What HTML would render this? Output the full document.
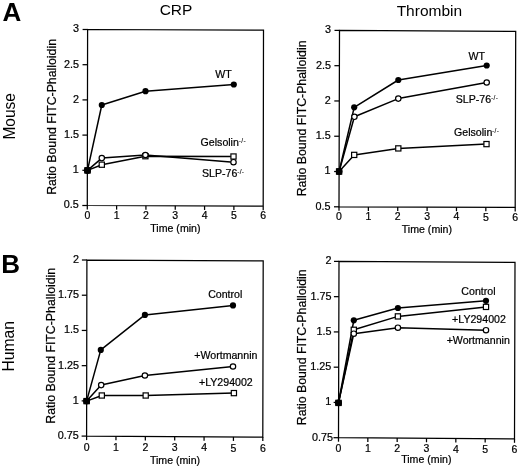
<!DOCTYPE html><html><head><meta charset="utf-8"><style>html,body{margin:0;padding:0;background:#fff;width:520px;height:470px;overflow:hidden}svg{display:block;filter:grayscale(1)}text{font-family:"Liberation Sans",sans-serif;fill:#000}</style></head><body>
<svg width="520" height="470" viewBox="0 0 520 470">
<defs><filter id="soft" x="0" y="0" width="100%" height="100%"><feGaussianBlur stdDeviation="0.3"/></filter></defs>
<rect width="520" height="470" fill="#fff"/>
<g filter="url(#soft)">
<text x="2.60" y="21.10" font-size="26" text-anchor="start" font-weight="bold">A</text>
<text x="1.30" y="272.80" font-size="26" text-anchor="start" font-weight="bold">B</text>
<text x="176.00" y="15.30" font-size="15.5" text-anchor="middle" font-weight="normal">CRP</text>
<text x="429.40" y="16.30" font-size="15.5" text-anchor="middle" font-weight="normal">Thrombin</text>
<text x="0" y="0" font-size="15.5" text-anchor="middle" font-weight="normal" transform="translate(15.40 116.30) rotate(-90) scale(1 1.07)">Mouse</text>
<text x="0" y="0" font-size="15.7" text-anchor="middle" font-weight="normal" transform="translate(14.10 346.30) rotate(-90) scale(1 1.07)">Human</text>
<path d="M87.6,29.5 L263.5,30.1 L263.2,206.2 L87.3,205.5 Z" fill="none" stroke="#000" stroke-width="1.25" stroke-linejoin="miter"/>
<line x1="87.30" y1="205.50" x2="87.30" y2="209.50" stroke="#000" stroke-width="1.25"/>
<text x="87.30" y="218.70" font-size="10.5" text-anchor="middle" font-weight="normal" stroke="#000" stroke-width="0.22">0</text>
<line x1="116.62" y1="205.62" x2="116.62" y2="209.62" stroke="#000" stroke-width="1.25"/>
<text x="116.62" y="218.82" font-size="10.5" text-anchor="middle" font-weight="normal" stroke="#000" stroke-width="0.22">1</text>
<line x1="145.93" y1="205.73" x2="145.93" y2="209.73" stroke="#000" stroke-width="1.25"/>
<text x="145.93" y="218.93" font-size="10.5" text-anchor="middle" font-weight="normal" stroke="#000" stroke-width="0.22">2</text>
<line x1="175.25" y1="205.85" x2="175.25" y2="209.85" stroke="#000" stroke-width="1.25"/>
<text x="175.25" y="219.05" font-size="10.5" text-anchor="middle" font-weight="normal" stroke="#000" stroke-width="0.22">3</text>
<line x1="204.57" y1="205.97" x2="204.57" y2="209.97" stroke="#000" stroke-width="1.25"/>
<text x="204.57" y="219.17" font-size="10.5" text-anchor="middle" font-weight="normal" stroke="#000" stroke-width="0.22">4</text>
<line x1="233.88" y1="206.08" x2="233.88" y2="210.08" stroke="#000" stroke-width="1.25"/>
<text x="233.88" y="219.28" font-size="10.5" text-anchor="middle" font-weight="normal" stroke="#000" stroke-width="0.22">5</text>
<line x1="263.20" y1="206.20" x2="263.20" y2="210.20" stroke="#000" stroke-width="1.25"/>
<text x="263.20" y="219.40" font-size="10.5" text-anchor="middle" font-weight="normal" stroke="#000" stroke-width="0.22">6</text>
<line x1="82.30" y1="205.50" x2="87.30" y2="205.50" stroke="#000" stroke-width="1.25"/>
<text x="78.80" y="208.40" font-size="10.8" text-anchor="end" font-weight="normal" stroke="#000" stroke-width="0.22">0.5</text>
<line x1="82.36" y1="170.30" x2="87.36" y2="170.30" stroke="#000" stroke-width="1.25"/>
<text x="78.86" y="173.20" font-size="10.8" text-anchor="end" font-weight="normal" stroke="#000" stroke-width="0.22">1</text>
<line x1="82.42" y1="135.10" x2="87.42" y2="135.10" stroke="#000" stroke-width="1.25"/>
<text x="78.92" y="138.00" font-size="10.8" text-anchor="end" font-weight="normal" stroke="#000" stroke-width="0.22">1.5</text>
<line x1="82.48" y1="99.90" x2="87.48" y2="99.90" stroke="#000" stroke-width="1.25"/>
<text x="78.98" y="102.80" font-size="10.8" text-anchor="end" font-weight="normal" stroke="#000" stroke-width="0.22">2</text>
<line x1="82.54" y1="64.70" x2="87.54" y2="64.70" stroke="#000" stroke-width="1.25"/>
<text x="79.04" y="67.60" font-size="10.8" text-anchor="end" font-weight="normal" stroke="#000" stroke-width="0.22">2.5</text>
<line x1="82.60" y1="29.50" x2="87.60" y2="29.50" stroke="#000" stroke-width="1.25"/>
<text x="79.10" y="32.40" font-size="10.8" text-anchor="end" font-weight="normal" stroke="#000" stroke-width="0.22">3</text>
<text x="175.40" y="231.60" font-size="10.6" text-anchor="middle" font-weight="normal" stroke="#000" stroke-width="0.22">Time (min)</text>
<text x="0" y="0" font-size="12.3" text-anchor="middle" font-weight="normal" stroke="#000" stroke-width="0.22" transform="translate(55.90 116.95) rotate(-90) scale(1 1.0)">Ratio Bound FITC-Phalloidin</text>
<path d="M87.50,170.40 L101.80,105.00 L145.50,91.20 L233.80,84.50" fill="none" stroke="#000" stroke-width="1.5" stroke-linejoin="round"/>
<path d="M87.50,170.40 L101.80,164.70 L145.40,156.20 L233.50,156.50" fill="none" stroke="#000" stroke-width="1.5" stroke-linejoin="round"/>
<path d="M87.50,170.40 L101.80,158.10 L145.40,155.00 L233.50,162.20" fill="none" stroke="#000" stroke-width="1.5" stroke-linejoin="round"/>
<rect x="84.90" y="167.80" width="5.2" height="5.2" fill="#fff" stroke="#000" stroke-width="1.2"/>
<rect x="99.20" y="162.10" width="5.2" height="5.2" fill="#fff" stroke="#000" stroke-width="1.2"/>
<rect x="142.80" y="153.60" width="5.2" height="5.2" fill="#fff" stroke="#000" stroke-width="1.2"/>
<rect x="230.90" y="153.90" width="5.2" height="5.2" fill="#fff" stroke="#000" stroke-width="1.2"/>
<circle cx="87.50" cy="170.40" r="2.7" fill="#fff" stroke="#000" stroke-width="1.2"/>
<circle cx="101.80" cy="158.10" r="2.7" fill="#fff" stroke="#000" stroke-width="1.2"/>
<circle cx="145.40" cy="155.00" r="2.7" fill="#fff" stroke="#000" stroke-width="1.2"/>
<circle cx="233.50" cy="162.20" r="2.7" fill="#fff" stroke="#000" stroke-width="1.2"/>
<circle cx="87.50" cy="170.40" r="3.1" fill="#000"/>
<circle cx="101.80" cy="105.00" r="3.1" fill="#000"/>
<circle cx="145.50" cy="91.20" r="3.1" fill="#000"/>
<circle cx="233.80" cy="84.50" r="3.1" fill="#000"/>
<rect x="84.55" y="167.45" width="5.9" height="5.9" fill="#000"/>
<text x="231.70" y="77.80" font-size="10.6" text-anchor="end" font-weight="normal" stroke="#000" stroke-width="0.22">WT</text>
<text x="200.60" y="145.80" font-size="10.6" text-anchor="start" font-weight="normal" stroke="#000" stroke-width="0.22">Gelsolin<tspan font-size="6.6" dy="-2.5" dx="-0.2" stroke-width="0.1" letter-spacing="0.35">-/-</tspan></text>
<text x="202.00" y="176.50" font-size="10.6" text-anchor="start" font-weight="normal" stroke="#000" stroke-width="0.22">SLP-76<tspan font-size="6.6" dy="-2.5" dx="-0.2" stroke-width="0.1" letter-spacing="0.35">-/-</tspan></text>
<path d="M339.5,30.4 L515.7,31.4 L515.2,207.4 L339.0,206.8 Z" fill="none" stroke="#000" stroke-width="1.25" stroke-linejoin="miter"/>
<line x1="339.00" y1="206.80" x2="339.00" y2="210.80" stroke="#000" stroke-width="1.25"/>
<text x="339.00" y="220.00" font-size="10.5" text-anchor="middle" font-weight="normal" stroke="#000" stroke-width="0.22">0</text>
<line x1="368.37" y1="206.90" x2="368.37" y2="210.90" stroke="#000" stroke-width="1.25"/>
<text x="368.37" y="220.10" font-size="10.5" text-anchor="middle" font-weight="normal" stroke="#000" stroke-width="0.22">1</text>
<line x1="397.73" y1="207.00" x2="397.73" y2="211.00" stroke="#000" stroke-width="1.25"/>
<text x="397.73" y="220.20" font-size="10.5" text-anchor="middle" font-weight="normal" stroke="#000" stroke-width="0.22">2</text>
<line x1="427.10" y1="207.10" x2="427.10" y2="211.10" stroke="#000" stroke-width="1.25"/>
<text x="427.10" y="220.30" font-size="10.5" text-anchor="middle" font-weight="normal" stroke="#000" stroke-width="0.22">3</text>
<line x1="456.47" y1="207.20" x2="456.47" y2="211.20" stroke="#000" stroke-width="1.25"/>
<text x="456.47" y="220.40" font-size="10.5" text-anchor="middle" font-weight="normal" stroke="#000" stroke-width="0.22">4</text>
<line x1="485.83" y1="207.30" x2="485.83" y2="211.30" stroke="#000" stroke-width="1.25"/>
<text x="485.83" y="220.50" font-size="10.5" text-anchor="middle" font-weight="normal" stroke="#000" stroke-width="0.22">5</text>
<line x1="515.20" y1="207.40" x2="515.20" y2="211.40" stroke="#000" stroke-width="1.25"/>
<text x="515.20" y="220.60" font-size="10.5" text-anchor="middle" font-weight="normal" stroke="#000" stroke-width="0.22">6</text>
<line x1="334.00" y1="206.80" x2="339.00" y2="206.80" stroke="#000" stroke-width="1.25"/>
<text x="330.50" y="209.70" font-size="10.8" text-anchor="end" font-weight="normal" stroke="#000" stroke-width="0.22">0.5</text>
<line x1="334.10" y1="171.52" x2="339.10" y2="171.52" stroke="#000" stroke-width="1.25"/>
<text x="330.60" y="174.42" font-size="10.8" text-anchor="end" font-weight="normal" stroke="#000" stroke-width="0.22">1</text>
<line x1="334.20" y1="136.24" x2="339.20" y2="136.24" stroke="#000" stroke-width="1.25"/>
<text x="330.70" y="139.14" font-size="10.8" text-anchor="end" font-weight="normal" stroke="#000" stroke-width="0.22">1.5</text>
<line x1="334.30" y1="100.96" x2="339.30" y2="100.96" stroke="#000" stroke-width="1.25"/>
<text x="330.80" y="103.86" font-size="10.8" text-anchor="end" font-weight="normal" stroke="#000" stroke-width="0.22">2</text>
<line x1="334.40" y1="65.68" x2="339.40" y2="65.68" stroke="#000" stroke-width="1.25"/>
<text x="330.90" y="68.58" font-size="10.8" text-anchor="end" font-weight="normal" stroke="#000" stroke-width="0.22">2.5</text>
<line x1="334.50" y1="30.40" x2="339.50" y2="30.40" stroke="#000" stroke-width="1.25"/>
<text x="331.00" y="33.30" font-size="10.8" text-anchor="end" font-weight="normal" stroke="#000" stroke-width="0.22">3</text>
<text x="426.90" y="232.60" font-size="10.6" text-anchor="middle" font-weight="normal" stroke="#000" stroke-width="0.22">Time (min)</text>
<text x="0" y="0" font-size="12.3" text-anchor="middle" font-weight="normal" stroke="#000" stroke-width="0.22" transform="translate(306.30 118.45) rotate(-90) scale(1 1.0)">Ratio Bound FITC-Phalloidin</text>
<path d="M339.10,171.50 L354.20,107.30 L398.30,80.00 L486.70,65.50" fill="none" stroke="#000" stroke-width="1.5" stroke-linejoin="round"/>
<path d="M339.10,171.50 L354.40,116.80 L398.30,98.60 L486.70,82.50" fill="none" stroke="#000" stroke-width="1.5" stroke-linejoin="round"/>
<path d="M339.10,171.50 L354.20,154.90 L398.30,148.40 L486.50,144.10" fill="none" stroke="#000" stroke-width="1.5" stroke-linejoin="round"/>
<rect x="336.50" y="168.90" width="5.2" height="5.2" fill="#fff" stroke="#000" stroke-width="1.2"/>
<rect x="351.60" y="152.30" width="5.2" height="5.2" fill="#fff" stroke="#000" stroke-width="1.2"/>
<rect x="395.70" y="145.80" width="5.2" height="5.2" fill="#fff" stroke="#000" stroke-width="1.2"/>
<rect x="483.90" y="141.50" width="5.2" height="5.2" fill="#fff" stroke="#000" stroke-width="1.2"/>
<circle cx="339.10" cy="171.50" r="2.7" fill="#fff" stroke="#000" stroke-width="1.2"/>
<circle cx="354.40" cy="116.80" r="2.7" fill="#fff" stroke="#000" stroke-width="1.2"/>
<circle cx="398.30" cy="98.60" r="2.7" fill="#fff" stroke="#000" stroke-width="1.2"/>
<circle cx="486.70" cy="82.50" r="2.7" fill="#fff" stroke="#000" stroke-width="1.2"/>
<circle cx="339.10" cy="171.50" r="3.1" fill="#000"/>
<circle cx="354.20" cy="107.30" r="3.1" fill="#000"/>
<circle cx="398.30" cy="80.00" r="3.1" fill="#000"/>
<circle cx="486.70" cy="65.50" r="3.1" fill="#000"/>
<rect x="336.15" y="168.55" width="5.9" height="5.9" fill="#000"/>
<text x="484.90" y="59.80" font-size="10.6" text-anchor="end" font-weight="normal" stroke="#000" stroke-width="0.22">WT</text>
<text x="455.80" y="102.50" font-size="10.6" text-anchor="start" font-weight="normal" stroke="#000" stroke-width="0.22">SLP-76<tspan font-size="6.6" dy="-2.5" dx="-0.2" stroke-width="0.1" letter-spacing="0.35">-/-</tspan></text>
<text x="454.00" y="135.70" font-size="10.6" text-anchor="start" font-weight="normal" stroke="#000" stroke-width="0.22">Gelsolin<tspan font-size="6.6" dy="-2.5" dx="-0.2" stroke-width="0.1" letter-spacing="0.35">-/-</tspan></text>
<path d="M86.9,260.0 L263.2,260.8 L262.8,437.1 L86.6,436.1 Z" fill="none" stroke="#000" stroke-width="1.25" stroke-linejoin="miter"/>
<line x1="86.60" y1="436.10" x2="86.60" y2="440.10" stroke="#000" stroke-width="1.25"/>
<text x="86.60" y="450.70" font-size="10.5" text-anchor="middle" font-weight="normal" stroke="#000" stroke-width="0.22">0</text>
<line x1="115.97" y1="436.27" x2="115.97" y2="440.27" stroke="#000" stroke-width="1.25"/>
<text x="115.97" y="450.87" font-size="10.5" text-anchor="middle" font-weight="normal" stroke="#000" stroke-width="0.22">1</text>
<line x1="145.33" y1="436.43" x2="145.33" y2="440.43" stroke="#000" stroke-width="1.25"/>
<text x="145.33" y="451.03" font-size="10.5" text-anchor="middle" font-weight="normal" stroke="#000" stroke-width="0.22">2</text>
<line x1="174.70" y1="436.60" x2="174.70" y2="440.60" stroke="#000" stroke-width="1.25"/>
<text x="174.70" y="451.20" font-size="10.5" text-anchor="middle" font-weight="normal" stroke="#000" stroke-width="0.22">3</text>
<line x1="204.07" y1="436.77" x2="204.07" y2="440.77" stroke="#000" stroke-width="1.25"/>
<text x="204.07" y="451.37" font-size="10.5" text-anchor="middle" font-weight="normal" stroke="#000" stroke-width="0.22">4</text>
<line x1="233.43" y1="436.93" x2="233.43" y2="440.93" stroke="#000" stroke-width="1.25"/>
<text x="233.43" y="451.53" font-size="10.5" text-anchor="middle" font-weight="normal" stroke="#000" stroke-width="0.22">5</text>
<line x1="262.80" y1="437.10" x2="262.80" y2="441.10" stroke="#000" stroke-width="1.25"/>
<text x="262.80" y="451.70" font-size="10.5" text-anchor="middle" font-weight="normal" stroke="#000" stroke-width="0.22">6</text>
<line x1="81.60" y1="436.10" x2="86.60" y2="436.10" stroke="#000" stroke-width="1.25"/>
<text x="78.80" y="439.00" font-size="10.8" text-anchor="end" font-weight="normal" stroke="#000" stroke-width="0.22">0.75</text>
<line x1="81.66" y1="400.88" x2="86.66" y2="400.88" stroke="#000" stroke-width="1.25"/>
<text x="78.86" y="403.78" font-size="10.8" text-anchor="end" font-weight="normal" stroke="#000" stroke-width="0.22">1</text>
<line x1="81.72" y1="365.66" x2="86.72" y2="365.66" stroke="#000" stroke-width="1.25"/>
<text x="78.92" y="368.56" font-size="10.8" text-anchor="end" font-weight="normal" stroke="#000" stroke-width="0.22">1.25</text>
<line x1="81.78" y1="330.44" x2="86.78" y2="330.44" stroke="#000" stroke-width="1.25"/>
<text x="78.98" y="333.34" font-size="10.8" text-anchor="end" font-weight="normal" stroke="#000" stroke-width="0.22">1.5</text>
<line x1="81.84" y1="295.22" x2="86.84" y2="295.22" stroke="#000" stroke-width="1.25"/>
<text x="79.04" y="298.12" font-size="10.8" text-anchor="end" font-weight="normal" stroke="#000" stroke-width="0.22">1.75</text>
<line x1="81.90" y1="260.00" x2="86.90" y2="260.00" stroke="#000" stroke-width="1.25"/>
<text x="79.10" y="262.90" font-size="10.8" text-anchor="end" font-weight="normal" stroke="#000" stroke-width="0.22">2</text>
<text x="175.00" y="464.10" font-size="10.6" text-anchor="middle" font-weight="normal" stroke="#000" stroke-width="0.22">Time (min)</text>
<text x="0" y="0" font-size="12.3" text-anchor="middle" font-weight="normal" stroke="#000" stroke-width="0.22" transform="translate(54.70 345.75) rotate(-90) scale(1 1.0)">Ratio Bound FITC-Phalloidin</text>
<path d="M86.60,401.10 L100.80,349.90 L144.90,314.90 L233.00,305.40" fill="none" stroke="#000" stroke-width="1.5" stroke-linejoin="round"/>
<path d="M86.60,401.10 L101.20,385.10 L144.90,375.50 L233.00,366.50" fill="none" stroke="#000" stroke-width="1.5" stroke-linejoin="round"/>
<path d="M86.60,401.10 L101.80,395.50 L145.70,395.50 L233.90,393.10" fill="none" stroke="#000" stroke-width="1.5" stroke-linejoin="round"/>
<rect x="84.00" y="398.50" width="5.2" height="5.2" fill="#fff" stroke="#000" stroke-width="1.2"/>
<rect x="99.20" y="392.90" width="5.2" height="5.2" fill="#fff" stroke="#000" stroke-width="1.2"/>
<rect x="143.10" y="392.90" width="5.2" height="5.2" fill="#fff" stroke="#000" stroke-width="1.2"/>
<rect x="231.30" y="390.50" width="5.2" height="5.2" fill="#fff" stroke="#000" stroke-width="1.2"/>
<circle cx="86.60" cy="401.10" r="2.7" fill="#fff" stroke="#000" stroke-width="1.2"/>
<circle cx="101.20" cy="385.10" r="2.7" fill="#fff" stroke="#000" stroke-width="1.2"/>
<circle cx="144.90" cy="375.50" r="2.7" fill="#fff" stroke="#000" stroke-width="1.2"/>
<circle cx="233.00" cy="366.50" r="2.7" fill="#fff" stroke="#000" stroke-width="1.2"/>
<circle cx="86.60" cy="401.10" r="3.1" fill="#000"/>
<circle cx="100.80" cy="349.90" r="3.1" fill="#000"/>
<circle cx="144.90" cy="314.90" r="3.1" fill="#000"/>
<circle cx="233.00" cy="305.40" r="3.1" fill="#000"/>
<rect x="83.65" y="398.15" width="5.9" height="5.9" fill="#000"/>
<text x="242.30" y="298.30" font-size="10.6" text-anchor="end" font-weight="normal" stroke="#000" stroke-width="0.22">Control</text>
<text x="194.30" y="358.60" font-size="10.6" text-anchor="start" font-weight="normal" stroke="#000" stroke-width="0.22">+Wortmannin</text>
<text x="199.00" y="386.30" font-size="10.6" text-anchor="start" font-weight="normal" stroke="#000" stroke-width="0.22">+LY294002</text>
<path d="M339.0,261.4 L515.0,262.4 L514.5,438.8 L338.5,437.7 Z" fill="none" stroke="#000" stroke-width="1.25" stroke-linejoin="miter"/>
<line x1="338.50" y1="437.70" x2="338.50" y2="441.70" stroke="#000" stroke-width="1.25"/>
<text x="338.50" y="451.90" font-size="10.5" text-anchor="middle" font-weight="normal" stroke="#000" stroke-width="0.22">0</text>
<line x1="367.83" y1="437.88" x2="367.83" y2="441.88" stroke="#000" stroke-width="1.25"/>
<text x="367.83" y="452.08" font-size="10.5" text-anchor="middle" font-weight="normal" stroke="#000" stroke-width="0.22">1</text>
<line x1="397.17" y1="438.07" x2="397.17" y2="442.07" stroke="#000" stroke-width="1.25"/>
<text x="397.17" y="452.27" font-size="10.5" text-anchor="middle" font-weight="normal" stroke="#000" stroke-width="0.22">2</text>
<line x1="426.50" y1="438.25" x2="426.50" y2="442.25" stroke="#000" stroke-width="1.25"/>
<text x="426.50" y="452.45" font-size="10.5" text-anchor="middle" font-weight="normal" stroke="#000" stroke-width="0.22">3</text>
<line x1="455.83" y1="438.43" x2="455.83" y2="442.43" stroke="#000" stroke-width="1.25"/>
<text x="455.83" y="452.63" font-size="10.5" text-anchor="middle" font-weight="normal" stroke="#000" stroke-width="0.22">4</text>
<line x1="485.17" y1="438.62" x2="485.17" y2="442.62" stroke="#000" stroke-width="1.25"/>
<text x="485.17" y="452.82" font-size="10.5" text-anchor="middle" font-weight="normal" stroke="#000" stroke-width="0.22">5</text>
<line x1="514.50" y1="438.80" x2="514.50" y2="442.80" stroke="#000" stroke-width="1.25"/>
<text x="514.50" y="453.00" font-size="10.5" text-anchor="middle" font-weight="normal" stroke="#000" stroke-width="0.22">6</text>
<line x1="333.50" y1="437.70" x2="338.50" y2="437.70" stroke="#000" stroke-width="1.25"/>
<text x="332.90" y="440.60" font-size="10.8" text-anchor="end" font-weight="normal" stroke="#000" stroke-width="0.22">0.75</text>
<line x1="333.60" y1="402.44" x2="338.60" y2="402.44" stroke="#000" stroke-width="1.25"/>
<text x="331.20" y="405.34" font-size="10.8" text-anchor="end" font-weight="normal" stroke="#000" stroke-width="0.22">1</text>
<line x1="333.70" y1="367.18" x2="338.70" y2="367.18" stroke="#000" stroke-width="1.25"/>
<text x="331.30" y="370.08" font-size="10.8" text-anchor="end" font-weight="normal" stroke="#000" stroke-width="0.22">1.25</text>
<line x1="333.80" y1="331.92" x2="338.80" y2="331.92" stroke="#000" stroke-width="1.25"/>
<text x="331.40" y="334.82" font-size="10.8" text-anchor="end" font-weight="normal" stroke="#000" stroke-width="0.22">1.5</text>
<line x1="333.90" y1="296.66" x2="338.90" y2="296.66" stroke="#000" stroke-width="1.25"/>
<text x="331.50" y="299.56" font-size="10.8" text-anchor="end" font-weight="normal" stroke="#000" stroke-width="0.22">1.75</text>
<line x1="334.00" y1="261.40" x2="339.00" y2="261.40" stroke="#000" stroke-width="1.25"/>
<text x="331.60" y="264.30" font-size="10.8" text-anchor="end" font-weight="normal" stroke="#000" stroke-width="0.22">2</text>
<text x="426.30" y="463.20" font-size="10.6" text-anchor="middle" font-weight="normal" stroke="#000" stroke-width="0.22">Time (min)</text>
<text x="0" y="0" font-size="12.3" text-anchor="middle" font-weight="normal" stroke="#000" stroke-width="0.22" transform="translate(306.30 347.25) rotate(-90) scale(1 1.0)">Ratio Bound FITC-Phalloidin</text>
<path d="M338.50,402.90 L353.80,320.30 L397.90,308.00 L486.00,300.80" fill="none" stroke="#000" stroke-width="1.5" stroke-linejoin="round"/>
<path d="M338.50,402.90 L353.80,333.70 L397.90,327.70 L486.00,330.20" fill="none" stroke="#000" stroke-width="1.5" stroke-linejoin="round"/>
<path d="M338.50,402.90 L353.80,329.80 L397.90,316.40 L486.00,306.90" fill="none" stroke="#000" stroke-width="1.5" stroke-linejoin="round"/>
<rect x="335.90" y="400.30" width="5.2" height="5.2" fill="#fff" stroke="#000" stroke-width="1.2"/>
<rect x="351.20" y="327.20" width="5.2" height="5.2" fill="#fff" stroke="#000" stroke-width="1.2"/>
<rect x="395.30" y="313.80" width="5.2" height="5.2" fill="#fff" stroke="#000" stroke-width="1.2"/>
<rect x="483.40" y="304.30" width="5.2" height="5.2" fill="#fff" stroke="#000" stroke-width="1.2"/>
<circle cx="338.50" cy="402.90" r="2.7" fill="#fff" stroke="#000" stroke-width="1.2"/>
<circle cx="353.80" cy="333.70" r="2.7" fill="#fff" stroke="#000" stroke-width="1.2"/>
<circle cx="397.90" cy="327.70" r="2.7" fill="#fff" stroke="#000" stroke-width="1.2"/>
<circle cx="486.00" cy="330.20" r="2.7" fill="#fff" stroke="#000" stroke-width="1.2"/>
<circle cx="338.50" cy="402.90" r="3.1" fill="#000"/>
<circle cx="353.80" cy="320.30" r="3.1" fill="#000"/>
<circle cx="397.90" cy="308.00" r="3.1" fill="#000"/>
<circle cx="486.00" cy="300.80" r="3.1" fill="#000"/>
<rect x="335.55" y="399.95" width="5.9" height="5.9" fill="#000"/>
<text x="495.50" y="294.60" font-size="10.6" text-anchor="end" font-weight="normal" stroke="#000" stroke-width="0.22">Control</text>
<text x="452.10" y="322.90" font-size="10.6" text-anchor="start" font-weight="normal" stroke="#000" stroke-width="0.22">+LY294002</text>
<text x="446.70" y="344.00" font-size="10.6" text-anchor="start" font-weight="normal" stroke="#000" stroke-width="0.22">+Wortmannin</text>
</g>
</svg></body></html>
